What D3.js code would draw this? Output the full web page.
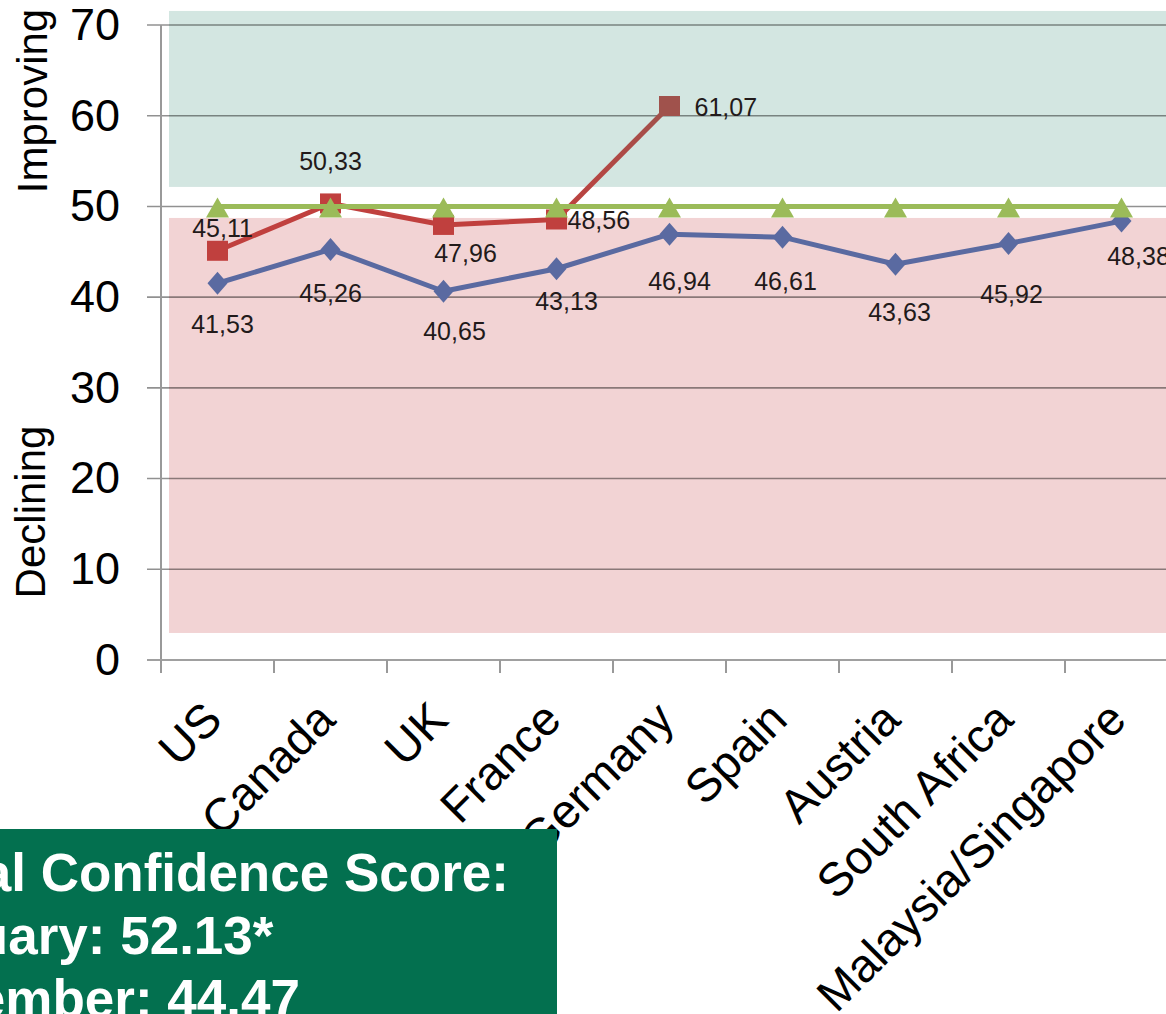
<!DOCTYPE html>
<html>
<head>
<meta charset="utf-8">
<script src="https://cdn.jsdelivr.net/npm/d3@7"></script>
<style>
  html, body { margin: 0; padding: 0; background: #fff; overflow: hidden; }
  svg { display: block; font-family: "Liberation Sans", Arial, sans-serif; }
</style>
</head>
<body>
<svg id="chart" width="1166" height="1014"></svg>
<script>
// ---------- data ----------
const categories = ["US", "Canada", "UK", "France", "Germany", "Spain", "Austria", "South Africa", "Malaysia/Singapore"];
const septemberScores = [41.53, 45.26, 40.65, 43.13, 46.94, 46.61, 43.63, 45.92, 48.38];
const februaryScores = [45.11, 50.33, 47.96, 48.56, 61.07];
const neutralLine = [50, 50, 50, 50, 50, 50, 50, 50, 50];
const yTicks = [0, 10, 20, 30, 40, 50, 60, 70];
const zoneNames = ["Improving", "Declining"];
const zoneLow = [52.15, 2.98];
const zoneHigh = [71.55, 48.73];
const boxLines = ["Global Confidence Score:", "February: 52.13*", "September: 44.47"];

// ---------- layout (not data) ----------
const blueLabelDx = [5, 0, 11, 10, 10, 3, 4, 3, 17];
const blueLabelDy = [50, 53, 49, 41, 56, 53, 57, 60, 44];
const redLabelDx = [5, 0, 22, 11, 25];
const redLabelDy = [-14, -33, 37, 10, 10];
const redLabelAnchor = ["middle", "middle", "middle", "start", "start"];

const svg = d3.select("#chart");
const x = d3.scaleBand().domain(categories).range([161, 161 + 113 * 9]);
const y = d3.scaleLinear().domain([0, 70]).range([660, 25]);
const cx = d => x(d) + x.bandwidth() / 2;

// zones
const zoneColors = ["#d3e6e1", "#f2d3d4"];
svg.append("g").selectAll("rect").data(zoneNames).join("rect")
  .attr("x", 169).attr("width", 1166 - 169 + 10)
  .attr("y", (d, i) => y(zoneHigh[i]))
  .attr("height", (d, i) => y(zoneLow[i]) - y(zoneHigh[i]))
  .attr("fill", (d, i) => zoneColors[i]);

// gridlines
svg.append("g").selectAll("line").data(yTicks.filter(t => t > 0)).join("line")
  .attr("x1", 147).attr("x2", 1170)
  .attr("y1", d => y(d)).attr("y2", d => y(d))
  .attr("stroke", "#000").attr("stroke-opacity", 0.43).attr("stroke-width", 1.6);

// y axis
const yAxis = svg.append("g").attr("transform", "translate(161,0)")
  .call(d3.axisLeft(y).tickValues(yTicks).tickSize(0).tickPadding(41).tickFormat(d3.format("d")));
yAxis.select(".domain").remove();
yAxis.selectAll("text").attr("font-size", 45).attr("fill", "#000")
  .attr("font-family", "'Liberation Sans', Arial, sans-serif");
svg.append("line").attr("x1", 161).attr("x2", 161).attr("y1", y(70)).attr("y2", 673)
  .attr("stroke", "#999").attr("stroke-width", 2);

// x axis
svg.append("line").attr("x1", 147).attr("x2", 1170).attr("y1", y(0)).attr("y2", y(0))
  .attr("stroke", "#a0a0a0").attr("stroke-width", 2.2);
svg.append("g").selectAll("line").data(categories).join("line")
  .attr("x1", d => x(d)).attr("x2", d => x(d))
  .attr("y1", y(0)).attr("y2", 673)
  .attr("stroke", "#999").attr("stroke-width", 2);
svg.append("g").selectAll("text").data(categories).join("text")
  .attr("transform", d => `translate(${cx(d) + 7},722) rotate(-45)`)
  .attr("text-anchor", "end")
  .attr("font-size", 47).attr("fill", "#000")
  .text(d => d);

// zone titles
svg.append("g").selectAll("text").data(zoneNames).join("text")
  .attr("transform", (d, i) => `translate(${i === 0 ? 47 : 45},${i === 0 ? 101 : 512}) rotate(-90)`)
  .attr("text-anchor", "middle").attr("font-size", 42).attr("fill", "#000")
  .text(d => d);

const line = d3.line().x((d, i) => cx(categories[i])).y(d => y(d));

// blue series
svg.append("path").datum(septemberScores).attr("d", line)
  .attr("fill", "none").attr("stroke", "#5a6aa1").attr("stroke-width", 5).attr("stroke-linejoin", "round");
svg.append("g").selectAll("path").data(septemberScores).join("path")
  .attr("d", "M0,-11.5L10,0L0,11.5L-10,0Z")
  .attr("transform", (d, i) => `translate(${cx(categories[i])},${y(d)})`)
  .attr("fill", "#5a6aa1");

// red series
const defs = svg.append("defs");
const grad = defs.append("linearGradient").attr("id", "redGrad")
  .attr("gradientUnits", "userSpaceOnUse")
  .attr("x1", cx(categories[3])).attr("y1", y(februaryScores[3]))
  .attr("x2", cx(categories[4])).attr("y2", y(februaryScores[4]));
grad.append("stop").attr("offset", "0%").attr("stop-color", "#c0403e");
grad.append("stop").attr("offset", "100%").attr("stop-color", "#a0524c");

svg.append("path").datum(februaryScores.slice(0, 4)).attr("d", line)
  .attr("fill", "none").attr("stroke", "#c0403e").attr("stroke-width", 5).attr("stroke-linejoin", "round");
svg.append("line")
  .attr("x1", cx(categories[3])).attr("y1", y(februaryScores[3]))
  .attr("x2", cx(categories[4])).attr("y2", y(februaryScores[4]))
  .attr("stroke", "url(#redGrad)").attr("stroke-width", 5);
svg.append("g").selectAll("rect").data(februaryScores).join("rect")
  .attr("x", (d, i) => cx(categories[i]) - 10.5).attr("y", d => y(d) - 10)
  .attr("width", 21).attr("height", 20)
  .attr("fill", (d, i) => i === 4 ? "#a0524c" : "#c0403e");

// green neutral line
svg.append("path").datum(neutralLine).attr("d", line)
  .attr("fill", "none").attr("stroke", "#9bbb59").attr("stroke-width", 5);
svg.append("g").selectAll("path").data(neutralLine).join("path")
  .attr("d", "M0,-10L11.5,10L-11.5,10Z")
  .attr("transform", (d, i) => `translate(${cx(categories[i])},${y(d) + 1})`)
  .attr("fill", "#9bbb59");

// labels
const fmt = v => d3.format(".2f")(v).replace(".", ",");
svg.append("g").selectAll("text").data(septemberScores).join("text")
  .attr("x", (d, i) => cx(categories[i]) + blueLabelDx[i])
  .attr("y", (d, i) => y(d) + blueLabelDy[i])
  .attr("text-anchor", "middle").attr("font-size", 25).attr("fill", "#221a1a")
  .text(fmt);
svg.append("g").selectAll("text").data(februaryScores).join("text")
  .attr("x", (d, i) => cx(categories[i]) + redLabelDx[i])
  .attr("y", (d, i) => y(d) + redLabelDy[i])
  .attr("text-anchor", (d, i) => redLabelAnchor[i]).attr("font-size", 25).attr("fill", "#221a1a")
  .text(fmt);

// green box
svg.append("rect").attr("x", -10).attr("y", 829).attr("width", 567).attr("height", 200).attr("fill", "#03704f");
svg.append("g").selectAll("text").data(boxLines).join("text")
  .attr("x", -139).attr("y", (d, i) => 891 + i * 63)
  .attr("font-size", 53).attr("font-weight", "bold").attr("fill", "#fff")
  .text(d => d);
</script>
</body>
</html>
